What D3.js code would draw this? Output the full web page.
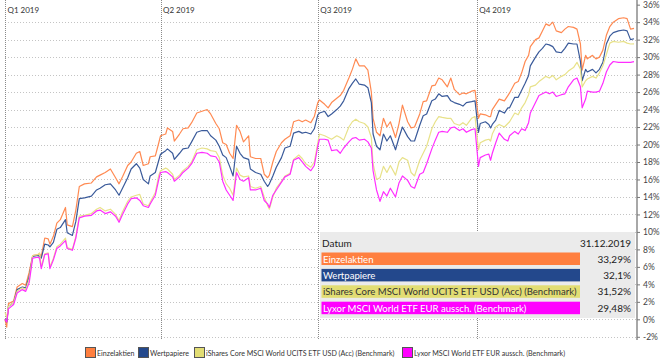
<!DOCTYPE html>
<html><head><meta charset="utf-8">
<script src="https://cdn.jsdelivr.net/npm/d3@7"></script>
<style>
body{margin:0;background:#fff}
svg{display:block}
text{font-family:Lato,"Open Sans",sans-serif}
</style>
</head><body>
<svg id="c" width="661" height="360"></svg>
<script>
// ---------------- data ----------------
const dates = [
"2019-01-01","2019-01-02","2019-01-03","2019-01-06","2019-01-08","2019-01-11","2019-01-13","2019-01-15","2019-01-17","2019-01-20","2019-01-21","2019-01-22","2019-01-24","2019-01-26","2019-01-27","2019-01-29","2019-01-31",
"2019-02-02","2019-02-05","2019-02-06","2019-02-09","2019-02-11","2019-02-13","2019-02-16","2019-02-20","2019-02-23","2019-02-25","2019-02-28",
"2019-03-03","2019-03-06","2019-03-08","2019-03-10","2019-03-13","2019-03-15","2019-03-18","2019-03-20","2019-03-22","2019-03-25","2019-03-26","2019-03-29","2019-03-31",
"2019-04-01","2019-04-04","2019-04-05","2019-04-08","2019-04-09","2019-04-12","2019-04-14","2019-04-17","2019-04-19","2019-04-22","2019-04-25","2019-04-28","2019-04-30",
"2019-05-03","2019-05-05","2019-05-07","2019-05-09","2019-05-11","2019-05-13","2019-05-15","2019-05-17","2019-05-19","2019-05-22","2019-05-23","2019-05-26","2019-05-29","2019-05-31",
"2019-06-02","2019-06-03","2019-06-05","2019-06-07","2019-06-10","2019-06-12","2019-06-15","2019-06-17","2019-06-20","2019-06-22","2019-06-24","2019-06-27","2019-06-29","2019-07-01",
"2019-07-02","2019-07-05","2019-07-07","2019-07-09","2019-07-12","2019-07-14","2019-07-16","2019-07-19","2019-07-21","2019-07-23","2019-07-25","2019-07-28","2019-07-30",
"2019-08-01","2019-08-02","2019-08-04","2019-08-06","2019-08-08","2019-08-10","2019-08-12","2019-08-15","2019-08-17","2019-08-19","2019-08-22","2019-08-24","2019-08-26","2019-08-29","2019-08-31",
"2019-09-02","2019-09-05","2019-09-07","2019-09-09","2019-09-11","2019-09-14","2019-09-16","2019-09-18","2019-09-21","2019-09-23","2019-09-25","2019-09-28","2019-09-30","2019-10-02",
"2019-10-03","2019-10-06","2019-10-08","2019-10-09","2019-10-10","2019-10-12","2019-10-14","2019-10-17","2019-10-19","2019-10-20","2019-10-23","2019-10-25","2019-10-27","2019-10-29","2019-10-31",
"2019-11-01","2019-11-04","2019-11-06","2019-11-08","2019-11-10","2019-11-12","2019-11-14","2019-11-16","2019-11-19","2019-11-21","2019-11-23","2019-11-26","2019-11-28","2019-11-30",
"2019-12-01","2019-12-03","2019-12-04","2019-12-07","2019-12-09","2019-12-11","2019-12-13","2019-12-15","2019-12-17","2019-12-19","2019-12-22","2019-12-25","2019-12-27","2019-12-29","2019-12-31"
];

const einzelaktien = [
0,-0.9,1.8,2.1,3.7,4.1,3.9,5.4,7.3,7.4,7.5,7.2,9.3,9.2,8.6,9.5,11.0,11.4,12.8,10.8,10.6,12.5,15.2,15.5,15.6,16.3,16.5,16.8,17.2,16.2,15.5,16.3,17.6,18.0,19.0,19.2,17.6,17.8,18.6,18.7,20.2,
21.0,21.2,21.9,21.5,20.4,21.2,21.8,21.9,22.5,23.6,23.8,24.0,23.5,22.4,21.8,20.2,20.0,19.0,18.4,22.2,21.5,20.3,21.0,18.6,18.4,18.4,16.6,16.2,16.5,18.0,19.2,20.2,20.6,21.0,22.6,22.8,22.6,22.8,22.5,23.2,24.8,
25.1,24.6,24.2,24.8,25.3,25.6,26.2,27.6,28.6,29.8,29.0,29.0,28.5,26.0,23.0,21.4,21.0,23.0,22.0,22.6,20.8,22.4,24.5,22.6,21.9,22.0,23.5,24.9,25.0,26.7,26.8,27.6,27.4,26.6,27.6,26.3,25.7,25.9,25.8,26.1,26.2,23.0,
23.5,23.4,23.2,23.2,24.0,24.6,25.2,25.0,25.6,25.9,27.0,27.2,28.2,29.5,30.2,31.2,32.0,32.2,33.0,33.8,33.6,34.0,33.0,32.8,33.2,33.5,33.4,33.2,31.5,28.5,30.2,29.8,30.2,29.8,30.0,30.8,32.5,33.5,34.0,34.4,34.5,34.4,33.2,33.29
];
const wertpapiere = [
0,-0.3,1.5,1.9,3.4,3.7,3.6,4.9,7.2,7.3,7.2,7.0,8.6,8.5,8.3,8.8,10.3,10.5,11.4,9.9,9.6,11.2,13.8,13.9,14.1,14.8,15.0,15.4,15.5,14.8,14.2,15.0,16.2,17.2,17.8,17.3,16.0,15.5,16.4,16.8,18.2,
18.9,19.3,19.5,19.0,18.3,19.0,19.5,19.6,20.3,21.4,21.6,21.6,21.0,20.5,19.8,18.8,18.5,17.5,16.4,19.8,19.0,18.5,18.3,17.2,16.8,16.6,15.8,15.2,15.5,16.4,17.4,18.5,19.6,19.8,21.3,21.5,21.3,21.4,21.2,21.8,23.4,
23.6,23.8,23.2,23.5,24.0,24.4,25.0,26.4,27.0,27.5,26.9,26.8,26.5,24.8,21.2,19.8,19.4,21.2,20.4,21.0,19.4,20.8,22.0,20.9,20.4,20.4,22.2,23.3,23.5,25.0,25.2,25.8,25.5,25.6,25.0,24.8,24.6,24.4,24.8,24.9,25.0,21.4,
22.4,22.6,22.3,21.9,22.3,22.8,23.9,23.6,24.2,24.2,25.4,25.4,26.2,27.0,27.9,29.0,30.0,30.6,31.0,31.5,31.4,31.2,30.6,30.5,31.0,31.6,31.5,31.5,29.5,27.3,28.6,28.3,28.6,28.2,28.6,29.4,31.5,32.4,32.8,33.0,33.1,33.0,32.0,32.1
];
const ishares = [
0.8,0.2,1.5,1.9,3.2,3.6,3.4,4.6,7.3,7.4,7.6,6.0,7.5,7.6,6.0,7.0,8.3,8.6,9.3,8.2,8.0,9.5,11.8,11.9,12.1,12.6,12.8,12.4,12.6,12.0,11.3,12.3,13.5,14.0,14.2,14.3,13.2,13.0,13.4,14.5,16.5,
17.0,17.3,17.2,16.6,16.0,16.5,17.0,17.5,18.0,19.4,19.6,19.5,19.3,19.2,18.5,16.5,15.5,15.0,14.2,17.3,16.5,16.3,16.4,15.2,15.0,15.2,14.0,13.0,12.6,14.0,15.0,15.8,16.4,16.7,18.3,18.8,18.4,17.8,17.4,18.0,20.2,
21.2,21.0,20.8,20.6,21.0,20.8,20.5,22.0,22.6,22.9,22.6,22.4,22.0,20.8,17.8,16.0,16.2,17.5,16.8,17.6,16.5,18.0,18.5,18.2,16.8,16.4,18.2,19.0,19.8,21.8,22.6,23.2,23.1,23.0,23.0,22.4,22.2,22.5,22.2,23.0,23.2,19.4,
20.2,20.5,20.6,20.4,21.2,22.0,22.3,22.0,22.4,22.6,23.6,23.4,24.2,24.8,25.7,26.6,26.8,27.2,27.5,27.8,27.6,27.9,27.4,27.8,28.0,28.4,28.8,29.4,28.6,26.6,27.3,27.5,27.8,27.6,28.2,29.0,30.3,31.6,31.8,31.7,31.8,31.6,31.5,31.52
];
const lyxor = [
0,-0.3,1.2,1.7,3.0,3.4,3.2,4.2,7.0,7.1,7.0,5.8,7.4,7.5,5.8,6.8,8.1,8.4,9.0,8.1,7.9,9.3,11.6,11.8,11.9,12.4,12.5,12.1,12.3,11.8,11.1,12.0,13.2,13.8,13.9,13.6,13.0,12.8,13.2,14.2,16.0,
16.8,16.9,16.8,16.3,15.8,16.3,16.8,17.3,17.8,19.0,19.1,19.0,18.7,18.6,18.0,15.8,14.8,14.2,13.6,16.8,16.0,15.8,16.2,14.8,14.8,15.0,13.6,13.2,12.8,14.2,14.8,15.7,16.3,16.6,18.2,18.5,18.0,17.5,17.0,17.6,19.8,
20.6,20.6,20.5,19.3,19.4,19.0,19.6,20.3,20.7,20.8,20.5,20.6,20.3,19.6,17.0,14.8,13.5,14.6,14.1,15.0,14.0,15.6,16.4,15.9,15.2,15.0,16.6,16.8,17.8,19.5,20.5,21.4,21.5,21.4,21.9,22.0,21.6,21.8,21.4,21.7,21.8,17.5,
18.5,18.8,18.9,18.2,19.0,20.2,21.3,20.6,20.4,21.0,21.5,21.2,21.8,21.6,22.5,23.6,24.8,25.6,25.8,26.0,25.8,26.0,25.5,25.7,25.8,26.6,27.4,27.6,26.6,24.2,25.2,26.1,26.0,26.0,26.1,27.0,28.3,29.1,29.5,29.4,29.4,29.4,29.4,29.48
];

const seriesNames = ["Einzelaktien","Wertpapiere","iShares Core MSCI World UCITS ETF USD (Acc) (Benchmark)","Lyxor MSCI World ETF EUR aussch. (Benchmark)"];
const quarterStarts = ["2019-01-01","2019-04-01","2019-07-01","2019-10-01"];
const quarterLabels = ["Q1 2019","Q2 2019","Q3 2019","Q4 2019"];
const yTicks = [-2,0,2,4,6,8,10,12,14,16,18,20,22,24,26,28,30,32,34,36];
const tooltipTitle = "Datum";
const tooltipDate = "31.12.2019";

// ---------------- styles ----------------
const lineColors = ["#FF8A52","#3A5A9A","#E8E28A","#FF2EFF"];
const boxColors  = ["#FF7F3F","#23488C","#E2DD73","#FF00FF"];
const boxText    = ["#ffffff","#ffffff","#333333","#ffffff"];

const parse = d3.timeParse("%Y-%m-%d");
const dts = dates.map(parse);
const series = [einzelaktien, wertpapiere, ishares, lyxor];

const svg = d3.select("#c");
const x = d3.scaleTime().domain([parse("2019-01-01"), parse("2019-12-31")]).range([5, 634]);
const y = d3.scaleLinear().domain([-2.4, 36.5]).range([340.3, 0.3]);
const plotLeft = 5, plotRight = 637, plotTop = 0, plotBottom = 340;

// horizontal grid
svg.append("g").selectAll("line").data(yTicks.filter(v => v < 36)).join("line")
  .attr("x1", plotLeft).attr("x2", plotRight)
  .attr("y1", d => Math.round(y(d)) + 0.5).attr("y2", d => Math.round(y(d)) + 0.5)
  .attr("stroke", "#c4c4c4").attr("stroke-dasharray", "1,2");

// quarter lines
const qg = svg.append("g");
qg.selectAll("line").data(quarterStarts).join("line")
  .attr("x1", d => Math.round(x(parse(d))) + 0.5).attr("x2", d => Math.round(x(parse(d))) + 0.5)
  .attr("y1", plotTop).attr("y2", plotBottom)
  .attr("stroke", "#8a8a8a").attr("stroke-dasharray", "1,1");
qg.selectAll("text").data(quarterStarts).join("text")
  .attr("x", d => x(parse(d)) + 2.5).attr("y", 13)
  .attr("font-size", 8).attr("fill", "#333")
  .text((d, i) => quarterLabels[i]);

// right axis
const ax = svg.append("g").attr("transform", `translate(${plotRight},0)`)
  .call(d3.axisRight(y).tickValues(yTicks).tickSize(3).tickSizeOuter(0).tickPadding(3).tickFormat(d => d + "%"));
ax.select(".domain").attr("stroke", "#a8a8a8").attr("stroke-width", 2)
  .attr("d", `M0,${plotTop}V${plotBottom}`);
ax.selectAll(".tick line").attr("stroke", "#777");
ax.selectAll(".tick text").attr("font-size", 8.5).attr("fill", "#444").attr("font-family", "Lato, 'Open Sans', sans-serif");

// lines
const line = d3.line().x((d, i) => x(dts[i])).y(d => y(d));
svg.append("g").selectAll("path").data(series).join("path")
  .attr("d", line).attr("fill", "none")
  .attr("stroke", (d, i) => lineColors[i]).attr("stroke-width", 1.2)
  .attr("stroke-linejoin", "round");

// tooltip box
const tb = svg.append("g");
tb.append("rect").attr("x", 320).attr("y", 232).attr("width", 315).attr("height", 86).attr("fill", "#ebebeb");
tb.append("text").attr("x", 322).attr("y", 247).attr("font-size", 10).attr("fill", "#222").text(tooltipTitle);
tb.append("text").attr("x", 631).attr("y", 247).attr("font-size", 10).attr("fill", "#222").attr("text-anchor", "end").text(tooltipDate);
const fmt = v => String(v).replace(".", ",") + "%";
series.forEach((s, i) => {
  const top = 252.5 + i * 16.4;
  tb.append("rect").attr("x", 321.5).attr("y", top).attr("width", 258.5).attr("height", 12.5).attr("fill", boxColors[i]);
  tb.append("text").attr("x", 323).attr("y", top + 10).attr("font-size", 9.55).attr("fill", boxText[i]).text(seriesNames[i]);
  tb.append("text").attr("x", 631).attr("y", top + 10).attr("font-size", 10).attr("fill", "#222").attr("text-anchor", "end").text(fmt(s[s.length - 1]));
});

// legend
const legX = [85, 138, 194, 402];
const lg = svg.append("g");
seriesNames.forEach((n, i) => {
  lg.append("rect").attr("x", legX[i] + 0.5).attr("y", 347.5).attr("width", 10).attr("height", 10)
    .attr("fill", boxColors[i]).attr("stroke", "#555").attr("stroke-width", 1);
  lg.append("text").attr("x", legX[i] + 12).attr("y", 356).attr("font-size", 7.1).attr("fill", "#333").text(n);
});
</script>
</body></html>
